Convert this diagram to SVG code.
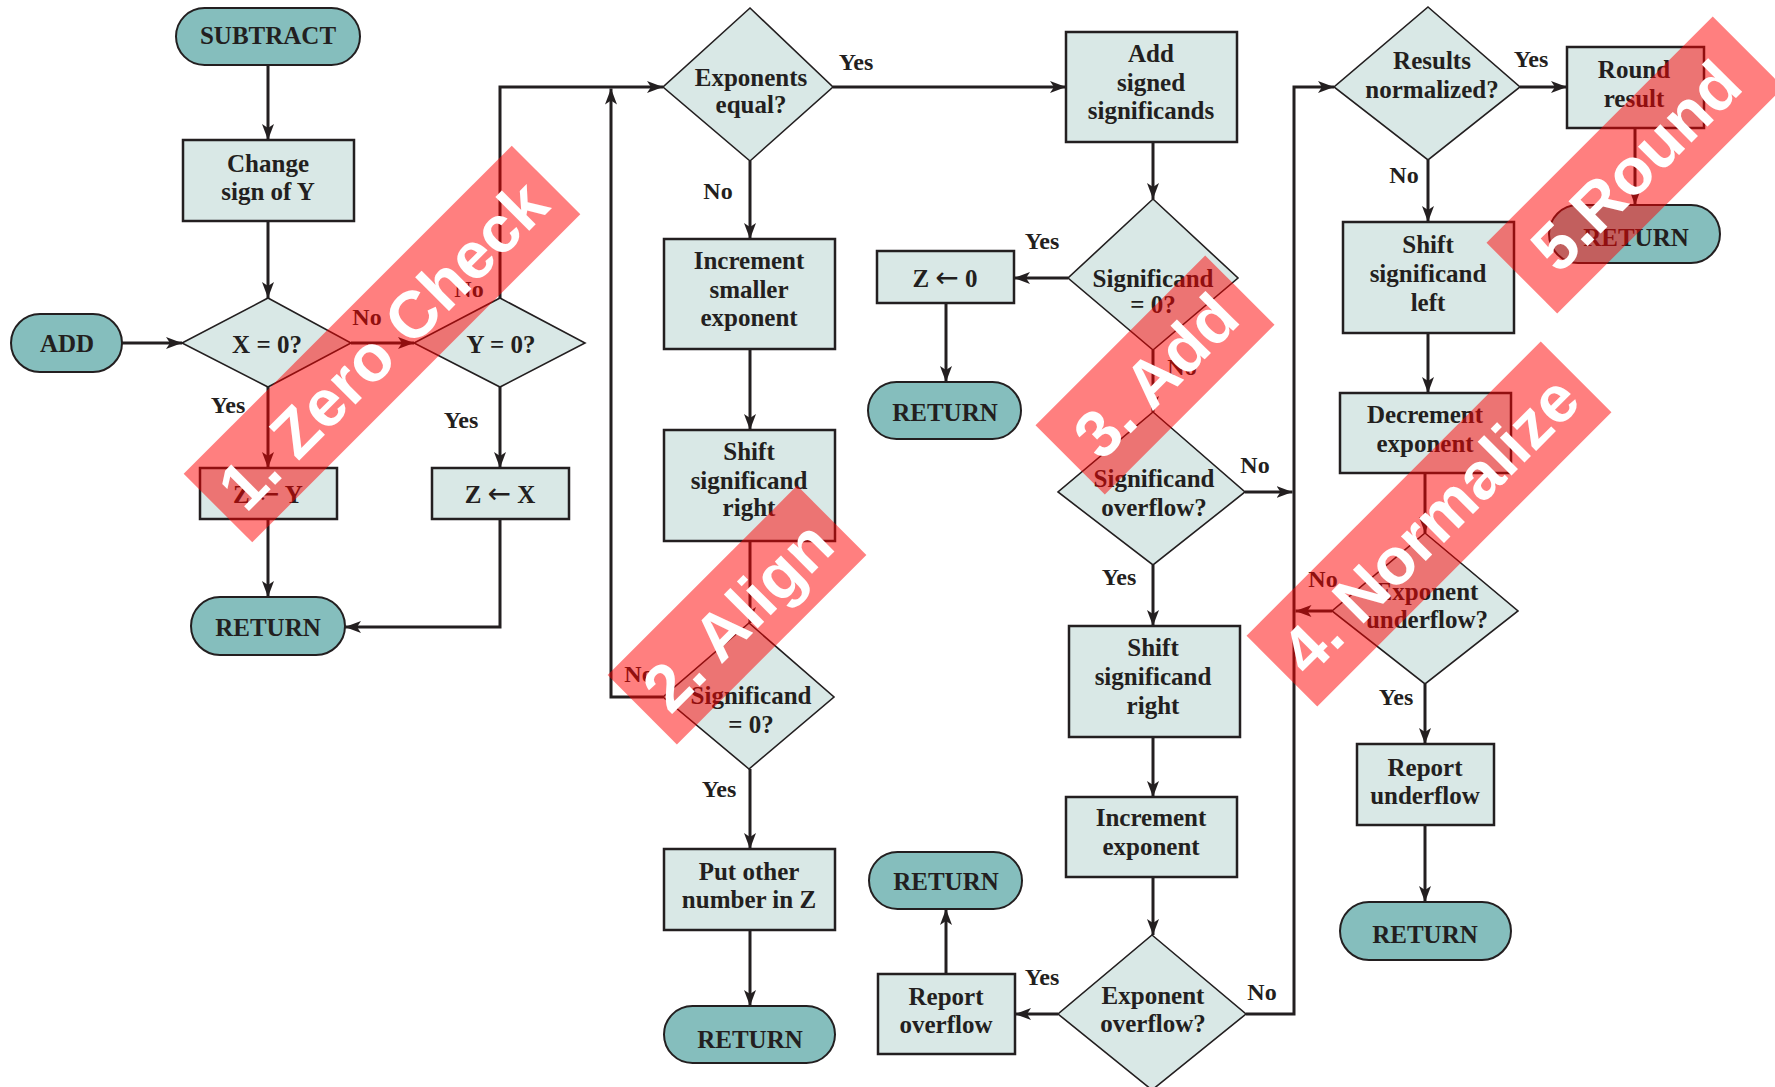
<svg xmlns="http://www.w3.org/2000/svg" width="1775" height="1087" viewBox="0 0 1775 1087">
<style>
.box{fill:#d9e8e6;stroke:#231f20;stroke-width:2.5}
.dia{fill:#d9e8e6;stroke:#231f20;stroke-width:1.6}
.pill{fill:#85bebd;stroke:#231f20;stroke-width:2}
.t{font-family:"Liberation Serif","Times New Roman",serif;font-weight:bold;font-size:25px;fill:#231f20;text-anchor:middle}
.arr{font-family:"DejaVu Sans",sans-serif;font-weight:normal;font-size:28px}
.lbl{font-family:"Liberation Serif","Times New Roman",serif;font-weight:bold;font-size:24px;fill:#231f20;text-anchor:middle}
.wire{fill:none;stroke:#231f20;stroke-width:3;marker-end:url(#ah)}
.band{fill:#ff0000;fill-opacity:0.5}
.bt{font-family:"Liberation Sans",Arial,sans-serif;font-weight:bold;font-size:66px;fill:#ffffff;text-anchor:middle}
</style>
<defs>
<marker id="ah" markerUnits="userSpaceOnUse" viewBox="0 0 16 12" refX="16" refY="6" markerWidth="16" markerHeight="12" orient="auto">
<path d="M0,0 L16,6 L0,12 L4,6 Z" fill="#231f20"/>
</marker>
</defs>
<rect width="1775" height="1087" fill="#ffffff"/>

<g id="connectors">
<path class="wire" d="M268,65 V140"/>
<path class="wire" d="M268,221 V298"/>
<path class="wire" d="M122,343 H182"/>
<path class="wire" d="M351,343 H414"/>
<path class="wire" d="M268,387 V468"/>
<path class="wire" d="M268,519 V597"/>
<path class="wire" d="M500,387 V468"/>
<path class="wire" d="M500,519 V627 H345"/>
<path class="wire" d="M500,298 V87 H663"/>
<path class="wire" d="M663,697 H611 V88.5"/>
<path class="wire" d="M833,87 H1066"/>
<path class="wire" d="M750,161 V239"/>
<path class="wire" d="M750,349 V430"/>
<path class="wire" d="M750,541 V623"/>
<path class="wire" d="M750,769 V849"/>
<path class="wire" d="M750,930 V1006"/>
<path class="wire" d="M1153,142 V199"/>
<path class="wire" d="M1068,278 H1014"/>
<path class="wire" d="M946,303 V382"/>
<path class="wire" d="M1153,350 V412"/>
<path class="wire" d="M1245,492 H1292.5"/>
<path class="wire" d="M1153,565 V626"/>
<path class="wire" d="M1153,737 V797"/>
<path class="wire" d="M1153,877 V935"/>
<path class="wire" d="M1058,1014 H1015"/>
<path class="wire" d="M946,974 V909"/>
<path class="wire" d="M1246,1014 H1294 V87 H1334"/>
<path class="wire" d="M1520,87 H1567"/>
<path class="wire" d="M1635,128 V205"/>
<path class="wire" d="M1428,160 V222"/>
<path class="wire" d="M1428,333 V393"/>
<path class="wire" d="M1425,473 V533"/>
<path class="wire" d="M1332,611 H1295.5"/>
<path class="wire" d="M1425,684 V744"/>
<path class="wire" d="M1425,825 V902"/>
</g>

<g id="labels">
<text class="lbl" x="367" y="325">No</text>
<text class="lbl" x="469" y="297">No</text>
<text class="lbl" x="228" y="413">Yes</text>
<text class="lbl" x="461" y="428">Yes</text>
<text class="lbl" x="856" y="70">Yes</text>
<text class="lbl" x="718" y="199">No</text>
<text class="lbl" x="639" y="682">No</text>
<text class="lbl" x="719" y="797">Yes</text>
<text class="lbl" x="1042" y="249">Yes</text>
<text class="lbl" x="1182" y="375">No</text>
<text class="lbl" x="1255" y="473">No</text>
<text class="lbl" x="1119" y="585">Yes</text>
<text class="lbl" x="1042" y="985">Yes</text>
<text class="lbl" x="1262" y="1000">No</text>
<text class="lbl" x="1531" y="67">Yes</text>
<text class="lbl" x="1404" y="183">No</text>
<text class="lbl" x="1323" y="587">No</text>
<text class="lbl" x="1396" y="705">Yes</text>
</g>

<g id="subtract"><rect class="pill" x="176" y="8" width="184" height="57" rx="28.5"/><text class="t" x="268" y="44">SUBTRACT</text></g>
<g id="add"><rect class="pill" x="11" y="314" width="111" height="58" rx="29"/><text class="t" x="67" y="352">ADD</text></g>
<g id="change-sign"><rect class="box" x="183" y="140" width="171" height="81"/><text class="t" x="268" y="172">Change</text><text class="t" x="268" y="200">sign of Y</text></g>
<g id="x-zero"><polygon class="dia" points="268,298 351,343 268,387 182,343"/><text class="t" x="267" y="353">X = 0?</text></g>
<g id="y-zero"><polygon class="dia" points="500,298 585,343 500,387 414,343"/><text class="t" x="501" y="353">Y = 0?</text></g>
<g id="z-gets-y"><rect class="box" x="200" y="468" width="137" height="51"/><text class="t" x="268" y="503">Z <tspan class="arr">←</tspan> Y</text></g>
<g id="z-gets-x"><rect class="box" x="432" y="468" width="137" height="51"/><text class="t" x="500" y="503">Z <tspan class="arr">←</tspan> X</text></g>
<g id="return-1"><rect class="pill" x="191" y="597" width="154" height="58" rx="29"/><text class="t" x="268" y="636">RETURN</text></g>

<g id="exponents-equal"><polygon class="dia" points="750,8 833,87 750,161 663,87"/><text class="t" x="751" y="86">Exponents</text><text class="t" x="751" y="113">equal?</text></g>
<g id="increment-smaller"><rect class="box" x="664" y="239" width="171" height="110"/><text class="t" x="749" y="269">Increment</text><text class="t" x="749" y="298">smaller</text><text class="t" x="749" y="326">exponent</text></g>
<g id="shift-right-1"><rect class="box" x="664" y="430" width="171" height="111"/><text class="t" x="749" y="460">Shift</text><text class="t" x="749" y="489">significand</text><text class="t" x="749" y="516">right</text></g>
<g id="significand-zero-1"><polygon class="dia" points="749,623 834,697 749,769 663,697"/><text class="t" x="751" y="704">Significand</text><text class="t" x="751" y="733">= 0?</text></g>
<g id="put-other"><rect class="box" x="664" y="849" width="171" height="81"/><text class="t" x="749" y="880">Put other</text><text class="t" x="749" y="908">number in Z</text></g>
<g id="return-2"><rect class="pill" x="664" y="1006" width="171" height="57" rx="28.5"/><text class="t" x="750" y="1048">RETURN</text></g>

<g id="add-significands"><rect class="box" x="1066" y="32" width="171" height="110"/><text class="t" x="1151" y="62">Add</text><text class="t" x="1151" y="91">signed</text><text class="t" x="1151" y="119">significands</text></g>
<g id="significand-zero-2"><polygon class="dia" points="1153,199 1238,278 1153,350 1068,278"/><text class="t" x="1153" y="287">Significand</text><text class="t" x="1153" y="313">= 0?</text></g>
<g id="z-gets-0"><rect class="box" x="877" y="251" width="137" height="52"/><text class="t" x="945" y="287">Z <tspan class="arr">←</tspan>  0</text></g>
<g id="return-3"><rect class="pill" x="868" y="382" width="153" height="57" rx="28.5"/><text class="t" x="945" y="421">RETURN</text></g>
<g id="significand-overflow"><polygon class="dia" points="1153,412 1245,492 1153,565 1058,492"/><text class="t" x="1154" y="487">Significand</text><text class="t" x="1154" y="516">overflow?</text></g>
<g id="shift-right-2"><rect class="box" x="1069" y="626" width="171" height="111"/><text class="t" x="1153" y="656">Shift</text><text class="t" x="1153" y="685">significand</text><text class="t" x="1153" y="714">right</text></g>
<g id="increment-exponent"><rect class="box" x="1066" y="797" width="171" height="80"/><text class="t" x="1151" y="826">Increment</text><text class="t" x="1151" y="855">exponent</text></g>
<g id="exponent-overflow"><polygon class="dia" points="1152,935 1246,1014 1152,1090 1058,1014"/><text class="t" x="1153" y="1004">Exponent</text><text class="t" x="1153" y="1032">overflow?</text></g>
<g id="report-overflow"><rect class="box" x="878" y="974" width="137" height="80"/><text class="t" x="946" y="1005">Report</text><text class="t" x="946" y="1033">overflow</text></g>
<g id="return-4"><rect class="pill" x="869" y="852" width="153" height="57" rx="28.5"/><text class="t" x="946" y="890">RETURN</text></g>

<g id="results-normalized"><polygon class="dia" points="1428,7 1520,87 1428,160 1334,87"/><text class="t" x="1432" y="69">Results</text><text class="t" x="1432" y="98">normalized?</text></g>
<g id="round-result"><rect class="box" x="1567" y="47" width="137" height="81"/><text class="t" x="1634" y="78">Round</text><text class="t" x="1634" y="107">result</text></g>
<g id="return-5"><rect class="pill" x="1549" y="205" width="171" height="58" rx="29"/><text class="t" x="1636" y="246">RETURN</text></g>
<g id="shift-left"><rect class="box" x="1343" y="222" width="171" height="111"/><text class="t" x="1428" y="253">Shift</text><text class="t" x="1428" y="282">significand</text><text class="t" x="1428" y="311">left</text></g>
<g id="decrement-exponent"><rect class="box" x="1340" y="393" width="171" height="80"/><text class="t" x="1425" y="423">Decrement</text><text class="t" x="1425" y="452">exponent</text></g>
<g id="exponent-underflow"><polygon class="dia" points="1425,533 1518,611 1425,684 1332,611"/><text class="t" x="1427" y="600">Exponent</text><text class="t" x="1427" y="628">underflow?</text></g>
<g id="report-underflow"><rect class="box" x="1357" y="744" width="137" height="81"/><text class="t" x="1425" y="776">Report</text><text class="t" x="1425" y="804">underflow</text></g>
<g id="return-6"><rect class="pill" x="1340" y="902" width="171" height="58" rx="29"/><text class="t" x="1425" y="943">RETURN</text></g>

<g id="overlays">
<g id="band-1" transform="translate(382,344) rotate(-45)"><rect class="band" x="-232" y="-48.5" width="464" height="97"/><text class="bt" x="0" y="24">1. Zero Check</text></g>
<g id="band-2" transform="translate(737,615) rotate(-45)"><rect class="band" x="-134" y="-49" width="268" height="98"/><text class="bt" x="0" y="24">2. Align</text></g>
<g id="band-3" transform="translate(1155,375) rotate(-45)"><rect class="band" x="-120" y="-49" width="240" height="98"/><text class="bt" x="0" y="24">3. Add</text></g>
<g id="band-4" transform="translate(1429,524) rotate(-45)"><rect class="band" x="-208" y="-50" width="416" height="100"/><text class="bt" x="0" y="24">4. Normalize</text></g>
<g id="band-5" transform="translate(1635,165) rotate(-45)"><rect class="band" x="-160" y="-50" width="320" height="100"/><text class="bt" x="0" y="24">5.Round</text></g>
</g>
</svg>
